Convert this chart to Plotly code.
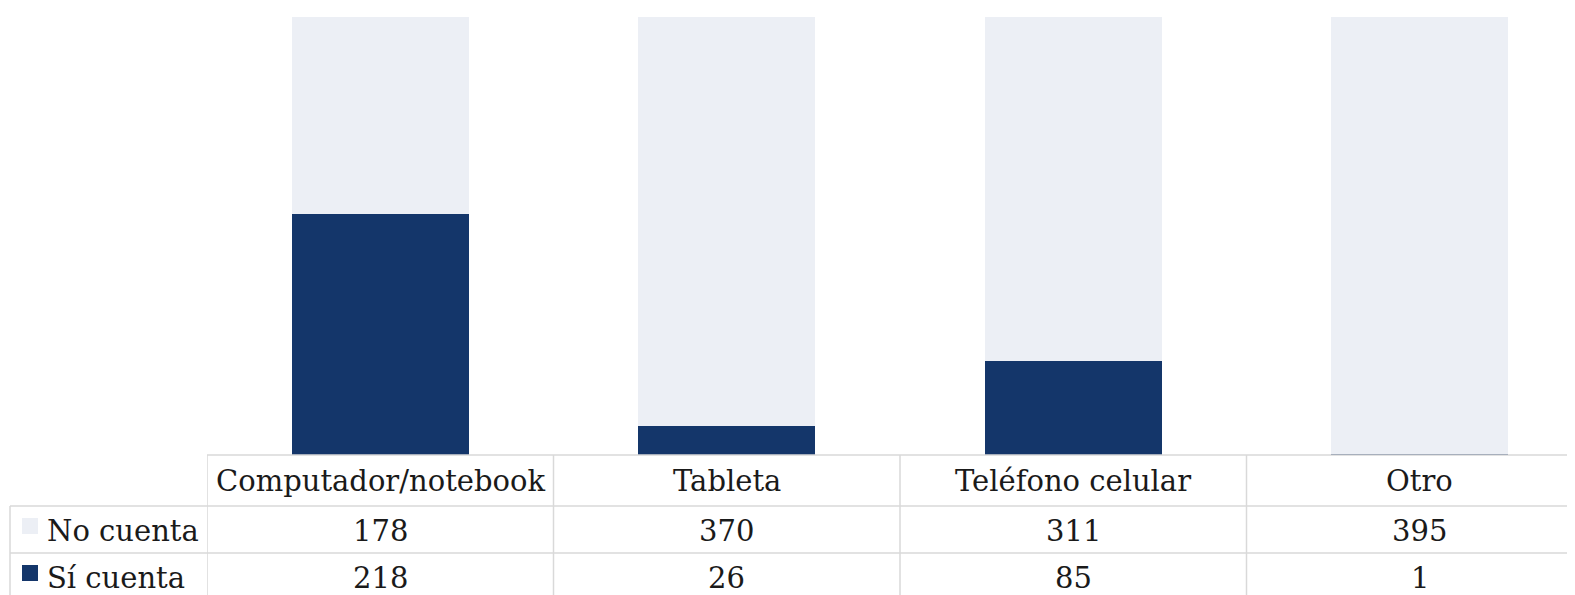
import plotly.graph_objects as go

categories = ["Computador/notebook", "Tableta", "Teléfono celular", "Otro"]
series_names = ["No cuenta", "Sí cuenta"]
no_cuenta = [178, 370, 311, 395]
si_cuenta = [218, 26, 85, 1]

DARK = "#14366a"
LIGHT = "#eceff5"
GRID = "#d9d9d9"
FONT = "DejaVu Serif"
FS = 29

W, H = 1575, 595
OFF = 8  # page body margin
ML, MR, MT, MB = 207 - OFF, 0, 17 - OFF, H - (455 - OFF)
PH = H - MT - MB
PW = W - ML - MR

def py(p):
    # p: page pixel y
    return (H - MB - (p - OFF)) / PH

def px(p):
    return ((p - OFF) - ML) / PW

fig = go.Figure()
fig.add_trace(go.Bar(x=list(range(len(categories))), y=si_cuenta, name=series_names[1],
                     marker=dict(color=DARK, line=dict(width=0)), width=0.51))
fig.add_trace(go.Bar(x=list(range(len(categories))), y=no_cuenta, name=series_names[0],
                     marker=dict(color=LIGHT, line=dict(width=0)), width=0.51))

ncat = len(categories)
col_w = 346.5
xmax = -0.5 + PW / col_w

shapes = []
row_bot = 650
shapes.append(dict(type="line", xref="paper", yref="paper", x0=0, x1=1, y0=py(455), y1=py(455),
                   line=dict(color=GRID, width=1.5)))
for p in [506, 553]:
    shapes.append(dict(type="line", xref="paper", yref="paper", x0=px(10), x1=1, y0=py(p), y1=py(p),
                       line=dict(color=GRID, width=1.5)))
for i in range(ncat):
    xb = i - 0.5
    shapes.append(dict(type="line", xref="x", yref="paper", x0=xb, x1=xb, y0=py(455), y1=py(row_bot),
                       line=dict(color=GRID, width=1.5)))
shapes.append(dict(type="line", xref="paper", yref="paper", x0=px(10), x1=px(10), y0=py(506), y1=py(row_bot),
                   line=dict(color=GRID, width=1.5)))
for p_top, col in [(518, LIGHT), (565, DARK)]:
    shapes.append(dict(type="rect", xref="paper", yref="paper", x0=px(22), x1=px(38),
                       y0=py(p_top), y1=py(p_top + 16), fillcolor=col, line=dict(width=0)))

annotations = []
row_centers = [481, 531, 578]
fnt = dict(family=FONT, size=FS, color="#1a1a1a")
for i, c in enumerate(categories):
    annotations.append(dict(x=i, y=py(row_centers[0]), xref="x", yref="paper", text=c,
                            showarrow=False, font=fnt, xanchor="center", yanchor="middle"))
    annotations.append(dict(x=i, y=py(row_centers[1]), xref="x", yref="paper", text=str(no_cuenta[i]),
                            showarrow=False, font=fnt, xanchor="center", yanchor="middle"))
    annotations.append(dict(x=i, y=py(row_centers[2]), xref="x", yref="paper", text=str(si_cuenta[i]),
                            showarrow=False, font=fnt, xanchor="center", yanchor="middle"))
for name, rc in [(series_names[0], row_centers[1]), (series_names[1], row_centers[2])]:
    annotations.append(dict(x=px(45), y=py(rc), xref="paper", yref="paper", text=name,
                            showarrow=False, font=fnt, xanchor="left", yanchor="middle"))

fig.update_layout(
    width=W, height=H,
    margin=dict(l=ML, r=MR, t=MT, b=MB),
    barmode="stack", barnorm="fraction",
    showlegend=False,
    plot_bgcolor="white", paper_bgcolor="white",
    xaxis=dict(range=[-0.5, xmax], visible=False, fixedrange=True),
    yaxis=dict(range=[0, 1], visible=False, fixedrange=True),
    shapes=shapes, annotations=annotations,
)
fig.write_html("out.html")
